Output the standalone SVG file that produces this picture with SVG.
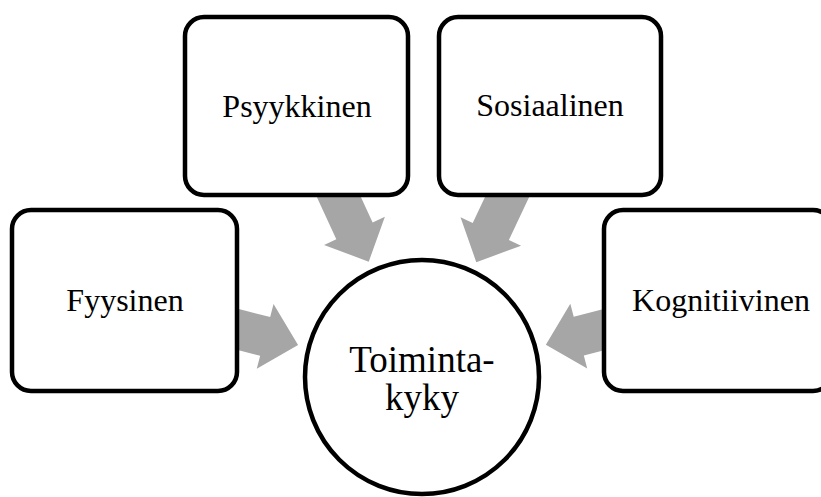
<svg xmlns="http://www.w3.org/2000/svg" width="821" height="497" viewBox="0 0 821 497">
  <style>
    .box { fill: #ffffff; stroke: #000000; stroke-width: 4.5; }
    .hub { fill: #ffffff; stroke: #000000; stroke-width: 4.5; }
    .label { font-family: "Liberation Serif", "Times New Roman", serif; font-size: 32px; fill: #000000; text-anchor: middle; }
    .hub-label { font-family: "Liberation Serif", "Times New Roman", serif; font-size: 37px; fill: #000000; text-anchor: middle; }
    .flow { fill: #a6a6a6; }
  </style>
  <defs>
    <!-- block arrow pointing along +x, tip at the origin -->
    <polygon id="block-arrow" class="flow" points="0,0 -34,-33.5 -34,-20 -95,-20 -95,20 -34,20 -34,33.5"/>
  </defs>

  <!-- connectors: block arrows converging on the hub (drawn beneath the boxes) -->
  <g id="connectors">
    <use href="#block-arrow" transform="translate(422,377) rotate(14.5) translate(-128,0)"/>
    <use href="#block-arrow" transform="translate(422,377) rotate(65.2) translate(-127,0)"/>
    <use href="#block-arrow" transform="translate(422,377) rotate(115.3) translate(-127,0)"/>
    <use href="#block-arrow" transform="translate(422,377) rotate(165.4) translate(-128,0)"/>
  </g>

  <g id="node-fyysinen">
    <rect class="box" x="12" y="210" width="225" height="181" rx="19"/>
    <text class="label" x="125" y="311">Fyysinen</text>
  </g>

  <g id="node-psyykkinen">
    <rect class="box" x="185" y="17" width="223" height="178" rx="19"/>
    <text class="label" x="297" y="117">Psyykkinen</text>
  </g>

  <g id="node-sosiaalinen">
    <rect class="box" x="439" y="17" width="222" height="178" rx="19"/>
    <text class="label" x="550" y="116">Sosiaalinen</text>
  </g>

  <g id="node-kognitiivinen">
    <rect class="box" x="604" y="210" width="228" height="181" rx="19"/>
    <text class="label" x="721" y="311">Kognitiivinen</text>
  </g>

  <g id="node-toimintakyky">
    <circle class="hub" cx="422" cy="377" r="117"/>
    <text class="hub-label" x="422" y="372">Toiminta-</text>
    <text class="hub-label" x="422" y="410">kyky</text>
  </g>
</svg>
